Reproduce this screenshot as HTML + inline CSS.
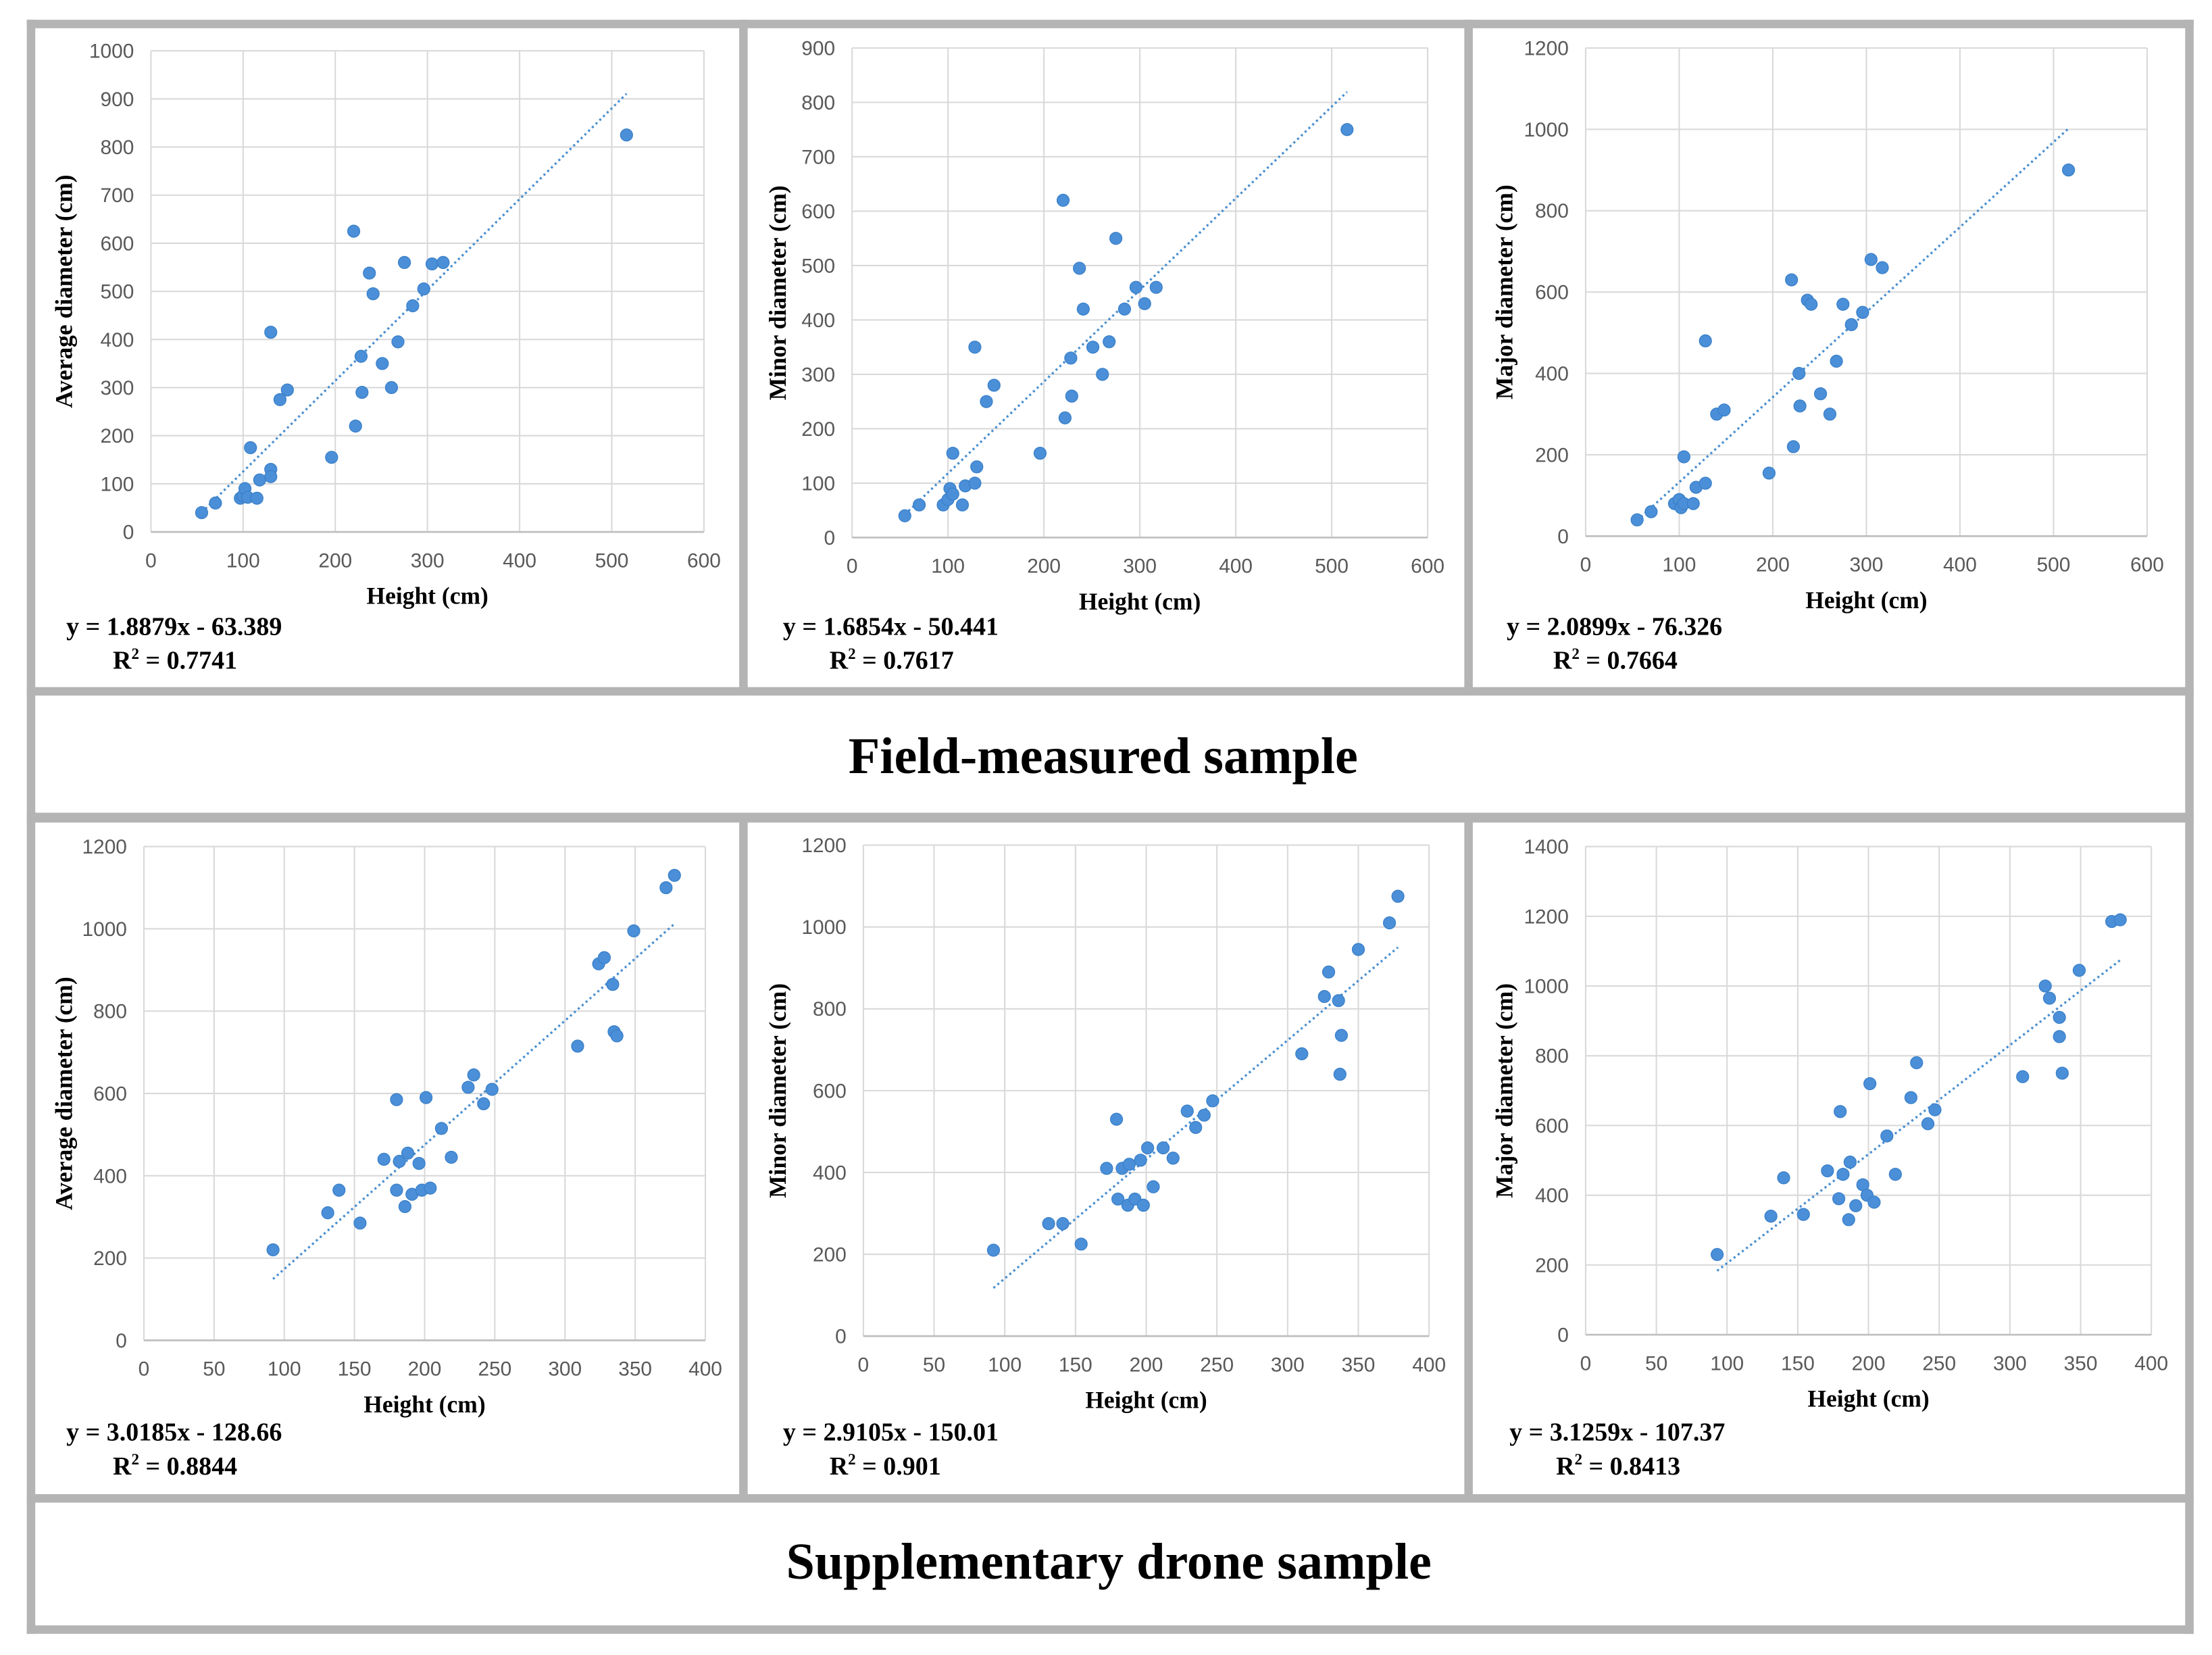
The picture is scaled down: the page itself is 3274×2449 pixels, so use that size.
<!DOCTYPE html>
<html><head><meta charset="utf-8">
<style>
html,body{margin:0;padding:0;background:#fff;}
svg{display:block;}
.tick{font-family:"Liberation Sans",sans-serif;font-size:14.3px;fill:#595959;}
.ttl{font-family:"Liberation Serif",serif;font-weight:bold;font-size:17px;fill:#000;}
.eq{font-family:"Liberation Serif",serif;font-weight:bold;font-size:18.2px;fill:#000;}
.band{font-family:"Liberation Serif",serif;font-weight:bold;font-size:36.5px;fill:#000;}
</style></head>
<body>
<svg id="fig" width="3274" height="2449" viewBox="0 0 1568 1173" preserveAspectRatio="none" xmlns="http://www.w3.org/2000/svg">
<g id="frame" fill="#b4b4b4">
<rect x="19" y="14" width="1536" height="6"/>
<rect x="19" y="14" width="6" height="1144"/>
<rect x="1549" y="14" width="6" height="1144"/>
<rect x="524" y="14" width="6" height="478"/>
<rect x="1038" y="14" width="6" height="478"/>
<rect x="19" y="487" width="1536" height="6"/>
<rect x="19" y="576" width="1536" height="7"/>
<rect x="524" y="580" width="6" height="482"/>
<rect x="1038" y="580" width="6" height="482"/>
<rect x="19" y="1059" width="1536" height="6"/>
<rect x="19" y="1152" width="1536" height="6"/>
</g>
<text class="band" x="782" y="548" text-anchor="middle">Field-measured sample</text>
<text class="band" x="786" y="1119" text-anchor="middle">Supplementary drone sample</text>
</svg>
<script>
// Panel 1: field, average diameter
const p1Height=[55,70,97,100,102,105,108,115,118,130,130,130,140,148,196,220,222,228,229,237,241,251,261,268,275,284,296,305,317,516];
const p1Diam=[40,60,70,75,90,72,175,70,108,130,115,415,275,295,155,625,220,365,290,538,495,350,300,395,560,470,505,557,560,825];
const p1Fit=[1.8879,-63.389];
const p1XTicks=[0,100,200,300,400,500,600];
const p1YTicks=[0,100,200,300,400,500,600,700,800,900,1000];
// Panel 2: field, minor diameter
const p2Height=[55,70,95,100,102,105,105,115,118,128,130,128,140,148,196,220,222,228,229,237,241,251,261,268,275,284,296,305,317,516];
const p2Diam=[40,60,60,70,90,80,155,60,95,100,130,350,250,280,155,620,220,330,260,495,420,350,300,360,550,420,460,430,460,750];
const p2Fit=[1.6854,-50.441];
const p2XTicks=[0,100,200,300,400,500,600];
const p2YTicks=[0,100,200,300,400,500,600,700,800,900];
// Panel 3: field, major diameter
const p3Height=[55,70,95,100,102,105,105,115,118,128,128,140,148,196,220,222,228,229,237,241,251,261,268,275,284,296,305,317,516];
const p3Diam=[40,60,80,90,70,80,195,80,120,130,480,300,310,155,630,220,400,320,580,570,350,300,430,570,520,550,680,660,900];
const p3Fit=[2.0899,-76.326];
const p3XTicks=[0,100,200,300,400,500,600];
const p3YTicks=[0,200,400,600,800,1000,1200];
// Panel 4: drone, average diameter
const p4Height=[92,131,139,154,171,180,180,182,186,188,191,196,198,201,204,212,219,231,235,242,248,309,324,328,334,335,337,349,372,378];
const p4Diam=[220,310,365,285,440,585,365,435,325,455,355,430,365,590,370,515,445,615,645,575,610,715,915,930,865,750,740,995,1100,1130];
const p4Fit=[3.0185,-128.66];
const p4XTicks=[0,50,100,150,200,250,300,350,400];
const p4YTicks=[0,200,400,600,800,1000,1200];
// Panel 5: drone, minor diameter
const p5Height=[92,131,141,154,172,179,180,183,187,188,192,196,198,201,205,212,219,229,235,241,247,310,326,329,336,337,338,350,372,378];
const p5Diam=[210,275,275,225,410,530,335,410,320,420,335,430,320,460,365,460,435,550,510,540,575,690,830,890,820,640,735,945,1010,1075];
const p5Fit=[2.9105,-150.01];
const p5XTicks=[0,50,100,150,200,250,300,350,400];
const p5YTicks=[0,200,400,600,800,1000,1200];
// Panel 6: drone, major diameter
const p6Height=[93,131,140,154,171,179,180,182,186,187,191,196,199,201,204,213,219,230,234,242,247,309,325,328,335,335,337,349,372,378];
const p6Diam=[230,340,450,345,470,390,640,460,330,495,370,430,400,720,380,570,460,680,780,605,645,740,1000,965,910,855,750,1045,1185,1190];
const p6Fit=[3.1259,-107.37];
const p6XTicks=[0,50,100,150,200,250,300,350,400];
const p6YTicks=[0,200,400,600,800,1000,1200,1400];

const NS="http://www.w3.org/2000/svg";
const svg=document.getElementById('fig');
function mk(tag,attrs,parent){const e=document.createElementNS(NS,tag);for(const k in attrs)e.setAttribute(k,attrs[k]);(parent||svg).appendChild(e);return e;}

function panel(id,xs,ys,fit,xt,yt,box,ytitle,eq,r2){
  const g=mk('g',{});
  
  
  const xmax=xt[xt.length-1],ymax=yt[yt.length-1];
  const X=v=>box.x0+(v/xmax)*(box.x1-box.x0);
  const Y=v=>box.y0-(v/ymax)*(box.y0-box.y1);
  xt.forEach(t=>{
    const l=mk('line',{x1:X(t),x2:X(t),y1:box.y1,y2:box.y0,stroke:'#d9d9d9','stroke-width':1},g);
    
    
    const tx=mk('text',{x:X(t),y:box.y0+25,'text-anchor':'middle',class:'tick'},g);
    tx.textContent=t;
    
    
  });
  yt.forEach(t=>{
    const l=mk('line',{x1:box.x0,x2:box.x1,y1:Y(t),y2:Y(t),stroke:'#d9d9d9','stroke-width':1},g);
    
    
    const tx=mk('text',{x:box.x0-12,y:Y(t)+5,'text-anchor':'end',class:'tick'},g);
    tx.textContent=t;
    
    
  });
  const ax=mk('line',{x1:box.x0,x2:box.x1,y1:box.y0,y2:box.y0,stroke:'#bfbfbf','stroke-width':1.3},g);
  
  
  const xa=Math.min(...xs),xb=Math.max(...xs);
  const tl=mk('line',{x1:X(xa),y1:Y(fit[0]*xa+fit[1]),x2:X(xb),y2:Y(fit[0]*xb+fit[1]),stroke:'#4a8fd0','stroke-width':1.6,'stroke-dasharray':'1.5 2.2'},g);
  
  
  xs.forEach((v,i)=>{
    const c=mk('circle',{cx:X(v),cy:Y(ys[i]),r:4.3,fill:'#4a8fd8',stroke:'#3a7fc8','stroke-width':0.6},g);
    
    
  });
  const xtit=mk('text',{x:(box.x0+box.x1)/2,y:box.y0+51,'text-anchor':'middle',class:'ttl'},g);
  xtit.textContent='Height (cm)';
  
  
  const cy=(box.y0+box.y1)/2;
  const ytit=mk('text',{x:box.ytx,y:cy,'text-anchor':'middle',class:'ttl',transform:`rotate(-90 ${box.ytx} ${cy})`},g);
  ytit.textContent=ytitle;
  
  
  const e1=mk('text',{x:box.ex,y:box.ey,class:'eq'},g);
  e1.textContent=eq;
  
  
  const e2=mk('text',{x:box.ex+33,y:box.ey+24,class:'eq'},g);
  e2.innerHTML='R<tspan dy="-7" font-size="11">2</tspan><tspan dy="7"> = '+r2+'</tspan>';
  
  
}
panel('field-average',p1Height,p1Diam,p1Fit,p1XTicks,p1YTicks,{x0:107,x1:499,y0:377,y1:36,ytx:51,ex:47,ey:450},'Average diameter (cm)','y = 1.8879x - 63.389','0.7741');
panel('field-minor',p2Height,p2Diam,p2Fit,p2XTicks,p2YTicks,{x0:604,x1:1012,y0:381,y1:34,ytx:557,ex:555,ey:450},'Minor diameter (cm)','y = 1.6854x - 50.441','0.7617');
panel('field-major',p3Height,p3Diam,p3Fit,p3XTicks,p3YTicks,{x0:1124,x1:1522,y0:380,y1:34,ytx:1072,ex:1068,ey:450},'Major diameter (cm)','y = 2.0899x - 76.326','0.7664');
panel('drone-average',p4Height,p4Diam,p4Fit,p4XTicks,p4YTicks,{x0:102,x1:500,y0:950,y1:600,ytx:51,ex:47,ey:1021},'Average diameter (cm)','y = 3.0185x - 128.66','0.8844');
panel('drone-minor',p5Height,p5Diam,p5Fit,p5XTicks,p5YTicks,{x0:612,x1:1013,y0:947,y1:599,ytx:557,ex:555,ey:1021},'Minor diameter (cm)','y = 2.9105x - 150.01','0.901');
panel('drone-major',p6Height,p6Diam,p6Fit,p6XTicks,p6YTicks,{x0:1124,x1:1525,y0:946,y1:600,ytx:1072,ex:1070,ey:1021},'Major diameter (cm)','y = 3.1259x - 107.37','0.8413');
</script>
</body></html>
